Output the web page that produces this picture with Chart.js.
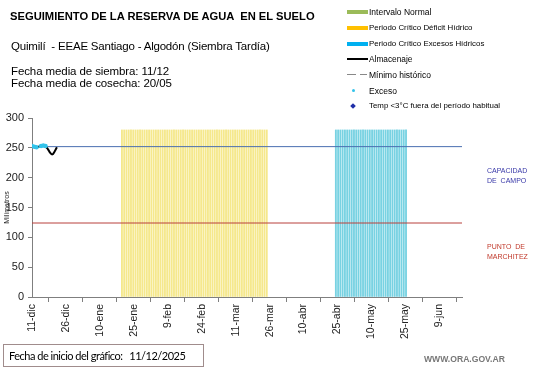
<!DOCTYPE html>
<html>
<head>
<meta charset="utf-8">
<script src="https://cdn.jsdelivr.net/npm/chart.js@4.4.1/dist/chart.umd.min.js"></script>
<style>
  body { margin: 0; background: #fff; width: 541px; height: 368px; overflow: hidden; position: relative; font-family: "Liberation Sans", Arial, sans-serif; }
  #wrap { position: absolute; left: 0; top: 0; width: 541px; height: 368px; }
  .t { position: absolute; white-space: pre; color: #000; }
  .sw { position: absolute; }
</style>
</head>
<body>
<div id="wrap"><canvas id="chart" width="541" height="368"></canvas></div>

<!-- encabezado -->
<div class="t" style="left:10px;top:10px;font-size:11.2px;line-height:13px;font-weight:bold;">SEGUIMIENTO DE LA RESERVA DE AGUA  EN EL SUELO</div>
<div class="t" style="left:11px;top:39px;font-size:11.5px;line-height:14px;letter-spacing:-0.2px;">Quimilí  - EEAE Santiago - Algodón (Siembra Tardía)</div>
<div class="t" style="left:11px;top:64px;font-size:11.5px;line-height:14px;letter-spacing:-0.1px;">Fecha media de siembra: 11/12</div>
<div class="t" style="left:11px;top:76px;font-size:11.5px;line-height:14px;letter-spacing:-0.1px;">Fecha media de cosecha: 20/05</div>

<!-- leyenda -->
<div class="sw" style="left:347px;top:10px;width:21px;height:4px;background:#9bbb59;"></div>
<div class="t" style="left:369px;top:6px;font-size:8.5px;line-height:12px;">Intervalo Normal</div>
<div class="sw" style="left:347px;top:26px;width:21px;height:4px;background:#ffc000;"></div>
<div class="t" style="left:369px;top:22px;font-size:7.9px;line-height:12px;">Periodo Crítico Déficit Hídrico</div>
<div class="sw" style="left:347px;top:42px;width:21px;height:4px;background:#00b0f0;"></div>
<div class="t" style="left:369px;top:38px;font-size:7.9px;line-height:12px;">Periodo Crítico Excesos Hídricos</div>
<div class="sw" style="left:347px;top:58px;width:21px;height:2px;background:#000;"></div>
<div class="t" style="left:369px;top:53px;font-size:8.3px;line-height:12px;">Almacenaje</div>
<div class="sw" style="left:347px;top:74px;width:9px;height:1px;background:#888;"></div>
<div class="sw" style="left:360px;top:74px;width:7px;height:1px;background:#888;"></div>
<div class="t" style="left:369px;top:69px;font-size:8.5px;line-height:12px;">Mínimo histórico</div>
<div class="sw" style="left:352px;top:89px;width:3px;height:3px;background:#33c3ea;border-radius:50%;"></div>
<div class="t" style="left:369px;top:85px;font-size:8.5px;line-height:12px;">Exceso</div>
<div class="sw" style="left:351px;top:104px;width:4px;height:4px;background:#1f2fa8;transform:rotate(45deg);"></div>
<div class="t" style="left:369px;top:100px;font-size:7.9px;line-height:12px;">Temp &lt;3°C fuera del período habitual</div>

<!-- etiquetas de referencia -->
<div class="t" style="left:487px;top:166px;font-size:7px;line-height:9.5px;color:#3838a8;">CAPACIDAD
DE  CAMPO</div>
<div class="t" style="left:487px;top:242px;font-size:7px;line-height:9.5px;color:#c0392b;">PUNTO  DE
MARCHITEZ</div>

<!-- pie -->
<div class="t" style="left:3px;top:344px;width:199px;height:21px;border:1px solid #a08c8c;"></div>
<div class="t" style="left:9px;top:349px;font-size:11px;line-height:14px;letter-spacing:-0.5px;font-family:Lato,sans-serif;">Fecha de inicio del gráfico:   11/12/2025</div>
<div class="t" style="left:424px;top:353px;font-size:8.6px;line-height:12px;font-weight:bold;color:#777;">WWW.ORA.GOV.AR</div>

<script>
// ----------------- Datos -----------------
// eje x en días desde el 11-dic (inicio del gráfico)
const tickLabels = ['11-dic','26-dic','10-ene','25-ene','9-feb','24-feb','11-mar','26-mar','10-abr','25-abr','10-may','25-may','9-jun'];
const maxDay = 190;

// almacenaje (mm) por día
const almacenajeDias  = [0, 1, 2, 3, 4, 5, 6, 7, 8, 9, 10, 11];
const almacenajeValor = [252, 251, 250, 252, 253, 253, 252, 248, 242, 239, 244, 251];

// puntos de exceso
const excesoDias  = [0, 1, 2, 4, 5, 6];
const excesoValor = [253, 252, 251, 253, 254, 253];

const capacidadCampo = 252;
const puntoMarchitez = 124;

// periodos críticos [día inicio, día fin] y altura de la barra
const deficitPeriodo = [40, 104];
const excesoPeriodo  = [134, 165];
const alturaPeriodo  = 280;

// ----------------- Construcción -----------------
function periodBars(p) {
  const out = [];
  for (let d = p[0]; d <= p[1]; d++) out.push({x: d, y: alturaPeriodo});
  return out;
}
const xy = (xs, ys) => xs.map((x, i) => ({x: x, y: ys[i]}));

const ctx = document.getElementById('chart').getContext('2d');
new Chart(ctx, {
  type: 'bar',
  data: {
    datasets: [
      { type: 'line', data: xy(almacenajeDias, almacenajeValor), borderColor: '#000', borderWidth: 2, pointRadius: 0, tension: 0.4, order: 1 },
      { type: 'line', data: xy(excesoDias, excesoValor), showLine: false, pointRadius: 2.2, pointBackgroundColor: '#33c3ea', pointBorderWidth: 0, order: 0 },
      { type: 'line', data: [{x: 0, y: capacidadCampo}, {x: maxDay, y: capacidadCampo}], borderColor: '#4a6eb0', borderWidth: 1, pointRadius: 0, order: 2 },
      { type: 'line', data: [{x: 0, y: puntoMarchitez}, {x: maxDay, y: puntoMarchitez}], borderColor: '#b8403c', borderWidth: 1, pointRadius: 0, order: 2 },
      { data: periodBars(deficitPeriodo), backgroundColor: 'rgb(245,232,140)', barThickness: 1.2, order: 5 },
      { data: periodBars(excesoPeriodo), backgroundColor: 'rgb(120,210,226)', barThickness: 1.2, order: 5 }
    ]
  },
  options: {
    responsive: false,
    animation: false,
    layout: { padding: { left: 0, top: 118, right: 79, bottom: 0 } },
    plugins: { legend: { display: false }, tooltip: { enabled: false } },
    scales: {
      x: {
        type: 'linear', min: 0, max: maxDay, offset: false,
        ticks: {
          stepSize: 15, autoSkip: false, minRotation: 90, maxRotation: 90, padding: 2,
          color: '#222', font: { family: 'Liberation Sans', size: 10.5 },
          callback: v => tickLabels[v / 15]
        },
        afterBuildTicks: s => { s.ticks = s.ticks.filter(t => t.value % 15 === 0); },
        afterFit: s => { s.height = 71; },
        grid: { drawOnChartArea: false, drawTicks: true, tickLength: 5, color: '#7f7f7f' },
        border: { color: '#7f7f7f' }
      },
      y: {
        min: 0, max: 300,
        ticks: { stepSize: 50, padding: 4, color: '#222', font: { family: 'Liberation Sans', size: 11 } },
        title: { display: true, text: 'Milímetros', font: { family: 'Liberation Sans', size: 7 }, color: '#222', padding: { top: 3, bottom: 0 } },
        afterFit: s => { s.width = 32; },
        grid: { drawOnChartArea: false, drawTicks: true, tickLength: 4, color: '#7f7f7f' },
        border: { color: '#7f7f7f' }
      }
    }
  }
});
</script>
</body>
</html>
